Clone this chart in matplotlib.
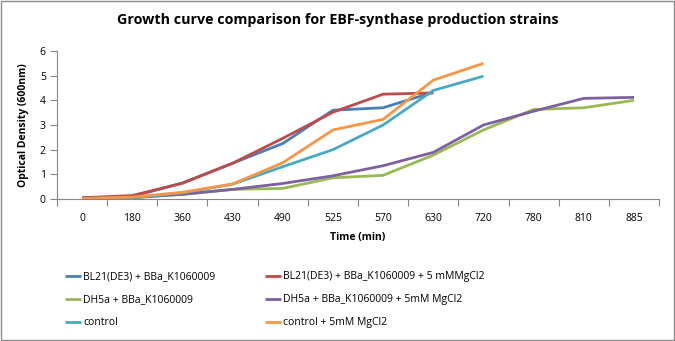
import numpy as np
import matplotlib
matplotlib.use("Agg")
from matplotlib import pyplot as plt
from matplotlib.patches import Rectangle

plt.rcParams['font.family'] = ['Open Sans', 'DejaVu Sans']

times = ['0', '180', '360', '430', '490', '525', '570', '630', '720', '780', '810', '885']

bl21 = [0.05, 0.10, 0.65, 1.45, 2.25, 3.60, 3.70, 4.33]
bl21_mg = [0.05, 0.14, 0.64, 1.45, 2.46, 3.52, 4.25, 4.30]
dh5a = [0.02, 0.05, 0.19, 0.39, 0.43, 0.86, 0.96, 1.78, 2.80, 3.63, 3.70, 4.00]
dh5a_mg = [0.02, 0.06, 0.19, 0.39, 0.63, 0.94, 1.35, 1.89, 3.00, 3.56, 4.08, 4.12]
control = [0.02, 0.05, 0.25, 0.60, 1.31, 2.00, 3.00, 4.40, 4.98]
control_mg = [0.02, 0.08, 0.27, 0.61, 1.47, 2.80, 3.23, 4.82, 5.50]

series = [
    (bl21, 'BL21(DE3) + BBa_K1060009', '#4a7ebb'),
    (bl21_mg, 'BL21(DE3) + BBa_K1060009 + 5 mMMgCl2', '#be4b48'),
    (dh5a, 'DH5a + BBa_K1060009', '#98b954'),
    (dh5a_mg, 'DH5a + BBa_K1060009 + 5mM MgCl2', '#7d60a0'),
    (control, 'control', '#46aac5'),
    (control_mg, 'control + 5mM MgCl2', '#f79646'),
]

fig = plt.figure(figsize=(6.75, 3.41), dpi=100)
fig.patches.append(Rectangle((0.001, 0.002), 0.997, 0.995, transform=fig.transFigure,
                             fill=False, edgecolor='#8c8c8c', linewidth=1))
ax = fig.add_axes([0.0844, 0.4164, 0.892, 0.434])

lines = []
for vals, name, col in series:
    ln, = ax.plot(np.arange(len(vals)), vals, color=col, lw=2.0, label=name,
                  solid_capstyle='butt', solid_joinstyle='round')
    lines.append(ln)

ax.set_xlim(-0.5, len(times) - 0.5)
ax.set_ylim(0, 6)
ax.set_yticks(range(7))
ax.set_xticks(np.arange(len(times) + 1) - 0.5)
ax.set_xticklabels([])
ax.set_xticks(np.arange(len(times)), minor=True)
ax.set_xticklabels(times, minor=True)
ax.tick_params(axis='x', which='minor', length=0, pad=10, labelsize=7.5)
ax.tick_params(axis='x', which='major', length=5, color='#868686')
ax.tick_params(axis='y', length=5, color='#868686', labelsize=7.5, pad=3)
for s in ['top', 'right']:
    ax.spines[s].set_visible(False)
for s in ['left', 'bottom']:
    ax.spines[s].set_color('#868686')

ax.set_xlabel('Time (min)', fontsize=7.5, fontweight='bold', labelpad=6)
ax.set_ylabel('Optical Density (600nm)', fontsize=7.5, fontweight='bold', labelpad=8)
fig.suptitle('Growth curve comparison for EBF-synthase production strains',
             fontsize=10.3, fontweight='bold', y=0.962)

# legend reads row by row, so put the left column first
order = [0, 2, 4, 1, 3, 5]
ax.legend([lines[i] for i in order], [series[i][1] for i in order],
          loc='upper left', bbox_to_anchor=(0.082, 0.232), bbox_transform=fig.transFigure,
          ncol=2, frameon=False, fontsize=7.5, handlelength=1.6, handletextpad=0.2,
          columnspacing=4.7, labelspacing=1.15)

fig.savefig('out.png', dpi=100)
